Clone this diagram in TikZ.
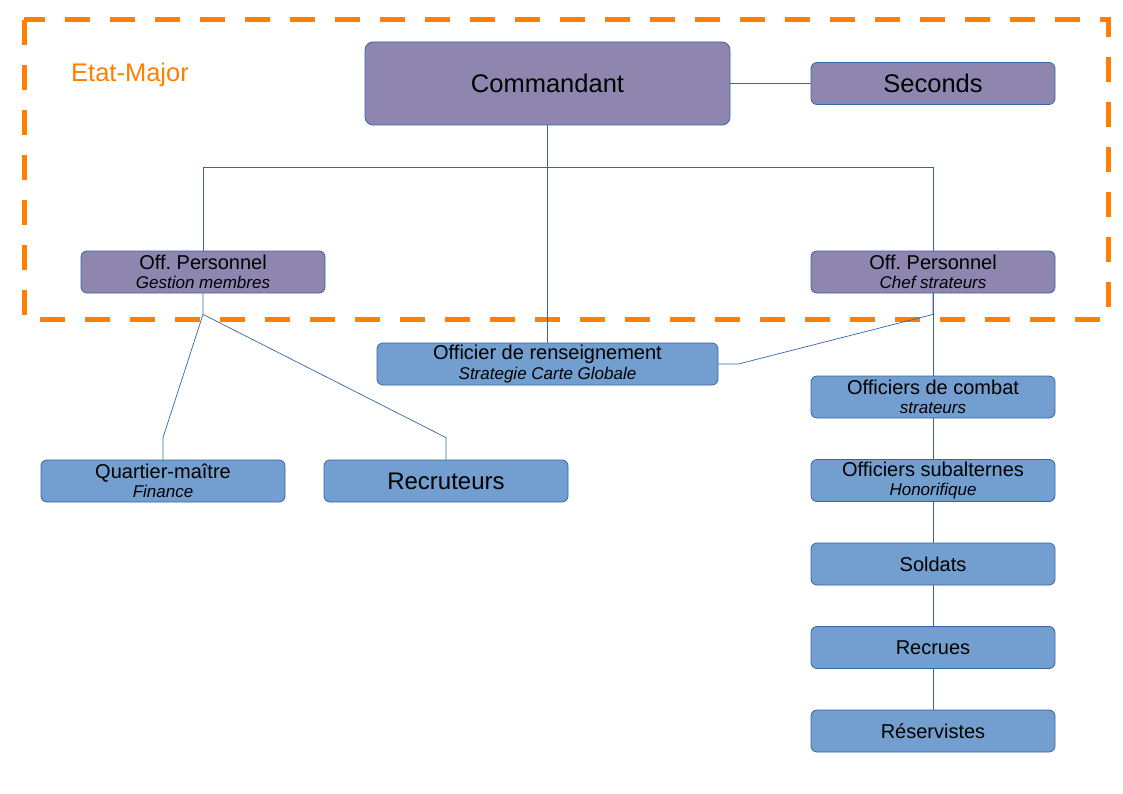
\documentclass[tikz,border=0pt]{standalone}
\usepackage{fontspec}
\setmainfont{Liberation Sans}
\usetikzlibrary{positioning}
\definecolor{emorange}{HTML}{FF8000}
\definecolor{emline}{HTML}{3465A4}
\definecolor{emblue}{HTML}{729FCF}
\definecolor{empurple}{HTML}{8E86AE}
\newcommand{\soustitre}[1]{{\fontsize{17}{19.5}\selectfont\itshape #1}}
\frenchspacing

\begin{document}
\begin{tikzpicture}[
    x=1pt,y=-1pt,
    node distance=40.7pt and 80.2pt,
    every node/.style={align=center,font=\fontsize{20}{19.5}\selectfont},
    rang/.style={rectangle,rounded corners=6pt,draw=emline,line width=0.8pt,minimum width=244pt,minimum height=42pt,inner sep=0pt},
    etat/.style={rang,fill=empurple},
    troupe/.style={rang,fill=emblue},
    lien/.style={draw=emline,line width=0.7pt}
  ]
    \useasboundingbox (0,0) rectangle (1123,794);
    % cadre de l'etat-major
    \draw[emorange,line width=5pt,dash pattern=on 25pt off 20pt] (24,20) rectangle (1108,319);
    \node[anchor=west,inner sep=0pt,text=emorange,font=\fontsize{25.5}{25.5}\selectfont] (etatmajor) at (71,75) {Etat-Major};

    \node[etat,minimum width=365pt,minimum height=83pt,rounded corners=8pt,font=\fontsize{25.5}{25.5}\selectfont] (commandant) at (547.5,83.5) {Commandant};
    \node[etat,right=of commandant,font=\fontsize{25.5}{25.5}\selectfont] (seconds) {Seconds};
    \node[etat] (persg) at (203,272) {Off. Personnel\\\soustitre{Gestion membres}};
    \node[etat] (persd) at (933,272) {Off. Personnel\\\soustitre{Chef strateurs}};
    \node[troupe,minimum width=341pt,below=217.2pt of commandant] (rens) {Officier de renseignement\\\soustitre{Strategie Carte Globale}};
    \node[troupe] (quartier) at (163,481) {Quartier-maître\\\soustitre{Finance}};
    \node[troupe,font=\fontsize{24}{24}\selectfont] (recruteurs) at (446,481) {Recruteurs};
    \node[troupe,below=82.2pt of persd] (combat) {Officiers de combat\\\soustitre{strateurs}};
    \node[troupe,below=of combat] (subalternes) {Officiers subalternes\\\soustitre{Honorifique}};
    \node[troupe,below=of subalternes] (soldats) {Soldats};
    \node[troupe,below=of soldats] (recrues) {Recrues};
    \node[troupe,below=of recrues] (reservistes) {Réservistes};

    \coordinate[below=21pt of persg] (persgbas);
    \coordinate[below=21pt of persd] (persdbas);
    \coordinate[above=22pt of quartier] (quartierhaut);
    \coordinate[above=22pt of recruteurs] (recruteurshaut);
    \coordinate[right=20pt of rens] (rensdroite);

    \draw[lien] (commandant) -- (seconds);
    \draw[lien] (commandant.south) -- (rens.north);
    \draw[lien] (commandant.south) -- ++(0,42) -| (persg.north);
    \draw[lien] (commandant.south) -- ++(0,42) -| (persd.north);
    \draw[lien] (persg.south) -- (persgbas) -- (quartierhaut) -- (quartier.north);
    \draw[lien] (persgbas) -- (recruteurshaut) -- (recruteurs.north);
    \draw[lien] (persd.south) -- (persdbas) -- (rensdroite) -- (rens.east);
    \foreach \haut/\bas in {persd/combat,combat/subalternes,subalternes/soldats,soldats/recrues,recrues/reservistes}
      \draw[lien] (\haut.south) -- (\bas.north);
  \end{tikzpicture}
\end{document}
